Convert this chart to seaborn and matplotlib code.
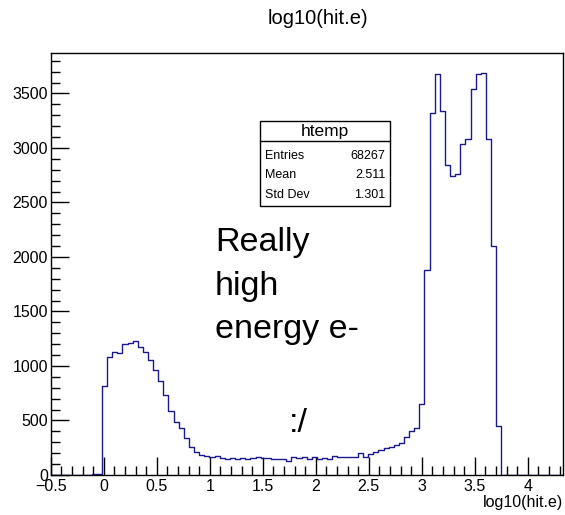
import numpy as np
import pandas as pd
import matplotlib
matplotlib.use("Agg")
import matplotlib.pyplot as plt
import seaborn as sns
from matplotlib.patches import Rectangle
from matplotlib.lines import Line2D
from matplotlib.ticker import MultipleLocator

# ---- data ----
x_min = -0.5
x_max = 4.33
n_bins = 100
counts = [0, 0, 0, 0, 0, 0, 0, 0, 5, 10,
          813, 1084, 1130, 1121, 1204, 1210, 1228, 1176, 1127, 1059,
          961, 859, 731, 587, 485, 430, 340, 260, 210, 186,
          170, 168, 175, 153, 144, 153, 144, 160, 144, 153,
          163, 153, 160, 150, 147, 147, 129, 169, 153, 169,
          144, 163, 144, 153, 144, 175, 169, 163, 163, 163,
          200, 163, 193, 209, 230, 246, 261, 278, 289, 345,
          408, 430, 651, 1882, 3325, 3675, 3340, 2840, 2742, 2757,
          3033, 3079, 3537, 3678, 3687, 3079, 2103, 445, 0, 0,
          0, 0, 4, 0, 0, 0, 0, 0, 0, 0]
title = "log10(hit.e)"
xlabel = "log10(hit.e)"
stats_name = "htemp"
stats_rows = [("Entries", "68267"), ("Mean", "2.511"), ("Std Dev", "1.301")]
annot_lines = ["Really", "high", "energy e-"]
annot2 = ":/"
xticks = [-0.5, 0, 0.5, 1, 1.5, 2, 2.5, 3, 3.5, 4]
xticklabels = ["\u22120.5", "0", "0.5", "1", "1.5", "2", "2.5", "3", "3.5", "4"]
yticks = [0, 500, 1000, 1500, 2000, 2500, 3000, 3500]

edges = np.linspace(x_min, x_max, n_bins + 1)
centers = 0.5 * (edges[:-1] + edges[1:])
df = pd.DataFrame({"x": centers, "w": counts})

sns.set_theme(style="white")
plt.rcParams["font.family"] = ["Liberation Sans", "DejaVu Sans"]
plt.rcParams["text.color"] = "black"

W, H = 565, 515
fig = plt.figure(figsize=(W / 100, H / 100), dpi=100)
L, R, T, B = 50.7, 562.7, 53, 475
ax = fig.add_axes([L / W, 1 - B / H, (R - L) / W, (B - T) / H])

sns.histplot(data=df, x="x", weights="w", bins=n_bins, binrange=(x_min, x_max),
             element="step", fill=False, color="#1a1a8c", linewidth=1.0, ax=ax)

ax.set_xlim(x_min, x_max)
ymax = max(counts) * 1.05
ax.set_ylim(0, ymax)
ax.set_ylabel("")
ax.set_xlabel("")

for s in ax.spines.values():
    s.set_color("black")
    s.set_linewidth(1.0)

ax.set_xticks(xticks)
ax.set_xticklabels(xticklabels)
ax.set_yticks(yticks)
ax.xaxis.set_minor_locator(MultipleLocator(0.1))
ax.yaxis.set_minor_locator(MultipleLocator(100))
ax.tick_params(axis="both", which="both", direction="in", colors="black",
               labelsize=11.5, top=False, right=False, bottom=True, left=True)
ax.tick_params(axis="x", which="major", length=13, width=1, pad=3)
ax.tick_params(axis="x", which="minor", length=6.5, width=1)
ax.tick_params(axis="y", which="major", length=13, width=1, pad=2)
ax.tick_params(axis="y", which="minor", length=6.5, width=1)
ax.grid(False)

fig.text(318 / W, 1 - 18 / H, title, ha="center", va="center", fontsize=14.5,
         color="black")
fig.text(R / W, 1 - 502 / H, xlabel, ha="right", va="center", fontsize=11.5,
         color="black")

# stats box
bx0, bx1, by0, by1, hline = 260, 389.5, 121, 206, 141
fig.add_artist(Rectangle((bx0 / W, 1 - by1 / H), (bx1 - bx0) / W, (by1 - by0) / H,
                         transform=fig.transFigure, facecolor="white",
                         edgecolor="black", linewidth=1.0))
fig.add_artist(Line2D([bx0 / W, bx1 / W], [1 - hline / H, 1 - hline / H],
                      transform=fig.transFigure, color="black", linewidth=1.0))
fig.text((bx0 + bx1) / 2 / W, 1 - 131.5 / H, stats_name, ha="center", va="center",
         fontsize=12.5, color="black")
row_y = [156, 175, 195]
for (k, v), yy in zip(stats_rows, row_y):
    fig.text((bx0 + 5) / W, 1 - yy / H, k, ha="left", va="center", fontsize=9,
             color="black")
    fig.text((bx1 - 4) / W, 1 - yy / H, v, ha="right", va="center", fontsize=9,
             color="black")

# annotations
base_y = [251, 295, 338]
for txt, yy in zip(annot_lines, base_y):
    fig.text(215 / W, 1 - yy / H, txt, ha="left", va="baseline", fontsize=24.5,
             color="black")
fig.text(289 / W, 1 - 432 / H, annot2, ha="left", va="baseline", fontsize=24.5,
         color="black")

fig.savefig("out.png", dpi=100, facecolor="white")
